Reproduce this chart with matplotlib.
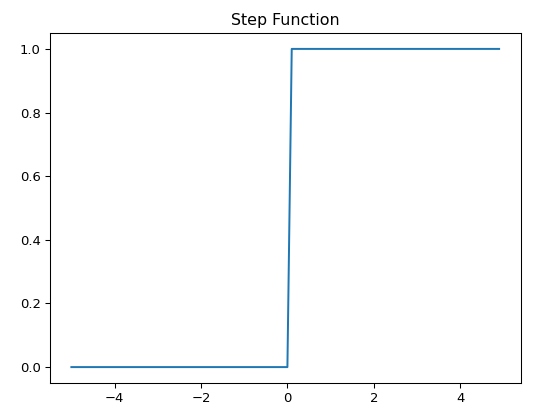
import matplotlib
matplotlib.use("Agg")
import matplotlib.pyplot as plt

# points: flat at 0, jump between x=0 and x=0.1, flat at 1
x_vals = [-5.0, 0.0, 0.1, 4.9]
y_vals = [0.0, 0.0, 1.0, 1.0]

dpi = 94.9
fig = plt.figure(figsize=(550 / dpi, 413 / dpi), dpi=dpi)
ax = fig.add_axes([50 / 550, 1 - 383 / 413, 470.5 / 550, 350 / 413])
ax.plot(x_vals, y_vals)
ax.set_title("Step Function")
ax.set_ylim(-0.05, 1.05)
fig.savefig("out.png", dpi=dpi)
